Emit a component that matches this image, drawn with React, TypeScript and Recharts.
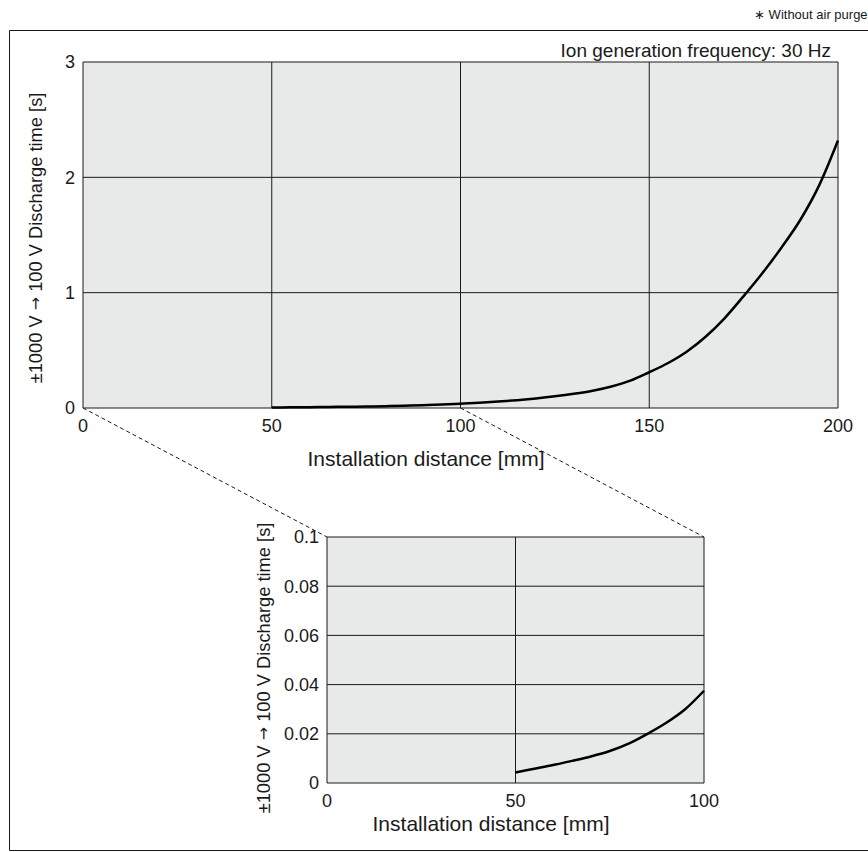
import { CartesianGrid, Line, LineChart, XAxis, YAxis } from 'recharts'

/* Discharge time vs installation distance, with a zoomed inset for 0–100 mm. */

const DISTANCE_MM = [
  50, 55, 60, 65, 70, 75, 80, 85, 90, 95, 100, 105, 110, 115, 120, 125,
  130, 135, 140, 145, 150, 155, 160, 165, 170, 175, 180, 185, 190, 195, 200,
]
const DISCHARGE_S = [
  0.0043, 0.0058, 0.0073, 0.009, 0.0108, 0.013, 0.016, 0.02, 0.0245, 0.03, 0.0375, 0.046, 0.056, 0.068, 0.083, 0.101,
  0.123, 0.15, 0.187, 0.237, 0.31, 0.39, 0.49, 0.62, 0.78, 0.97, 1.17, 1.39, 1.63, 1.93, 2.32,
]

const MAIN_X_TICKS = [0, 50, 100, 150, 200]
const MAIN_Y_TICKS = [0, 1, 2, 3]
const INSET_X_TICKS = [0, 50, 100]
const INSET_Y_TICKS = [0, 0.02, 0.04, 0.06, 0.08, 0.1]
const ZOOM_RANGE = [0, 100]

const Y_TITLE_START = '±1000 V '
const Y_TITLE_ARROW = '→'
const Y_TITLE_END = ' 100 V Discharge time [s]'
const X_TITLE = 'Installation distance [mm]'
const FREQ_NOTE = 'Ion generation frequency: 30 Hz'
const PURGE_NOTE = '∗ Without air purge'

const FONT = '"Liberation Sans", Arial, Helvetica, sans-serif'
const INK = '#1a1a1a'
const PLOT_FILL = '#e8e9e9'
const TICK = { fill: INK, fontSize: 18, fontFamily: FONT }

const rows = DISTANCE_MM.map((d, i) => ({ d, t: DISCHARGE_S[i] }))
const insetRows = rows.filter((r) => r.d <= ZOOM_RANGE[1])

// plot-area boxes in page pixels
const MAIN = { left: 83, top: 62, right: 838, bottom: 408 }
const INSET = { left: 327, top: 537, right: 704, bottom: 783 }
const INSET_POS = { x: 220, y: 500, w: 540, h: 352 }
const Y_AXIS_W = 60
const X_AXIS_H = 30

const mainX = (v: number) => MAIN.left + (v / 200) * (MAIN.right - MAIN.left)

function YTitle({ x, y }: { x: number; y: number }) {
  return (
    <text transform={`translate(${x},${y}) rotate(-90)`} fontSize={18.3} fill={INK}
          textAnchor="middle" dominantBaseline="central">
      {Y_TITLE_START}
      <tspan fontFamily='"DejaVu Sans", sans-serif' fontSize={16}>{Y_TITLE_ARROW}</tspan>
      {Y_TITLE_END}
    </text>
  )
}

export default function App() {
  return (
    <div style={{ position: 'absolute', left: 0, top: 0, width: 868, height: 852, overflow: 'hidden',
                  background: '#fff', fontFamily: FONT }}>
      <svg width={868} height={852} style={{ position: 'absolute', left: 0, top: 0 }}>
        <path d="M 880 30.5 H 9.5 V 850.5 H 880" fill="none" stroke={INK} strokeWidth={1} />
        <line x1={mainX(ZOOM_RANGE[0])} y1={MAIN.bottom} x2={INSET.left} y2={INSET.top}
              stroke={INK} strokeWidth={1} strokeDasharray="4 3" />
        <line x1={mainX(ZOOM_RANGE[1])} y1={MAIN.bottom} x2={INSET.right} y2={INSET.top}
              stroke={INK} strokeWidth={1} strokeDasharray="4 3" />
        <text x={754} y={19} fontSize={13} fill={INK}>{PURGE_NOTE}</text>
        <text x={831} y={57} fontSize={19} fill={INK} textAnchor="end">{FREQ_NOTE}</text>
        <text x={426} y={466} fontSize={21} fill={INK} textAnchor="middle">{X_TITLE}</text>
        <text x={491} y={831} fontSize={21} fill={INK} textAnchor="middle">{X_TITLE}</text>
        <YTitle x={35} y={238} />
        <YTitle x={263} y={668} />
      </svg>

      <div style={{ position: 'absolute', left: 0, top: 0 }}>
        <LineChart width={868} height={480} data={rows}
                   margin={{ top: MAIN.top, right: 868 - MAIN.right, left: MAIN.left - Y_AXIS_W,
                             bottom: 480 - MAIN.bottom - X_AXIS_H }}>
          <CartesianGrid stroke={INK} fill={PLOT_FILL} fillOpacity={1} />
          <XAxis dataKey="d" type="number" domain={[0, 200]} ticks={MAIN_X_TICKS} height={X_AXIS_H}
                 tick={TICK} tickLine={false} axisLine={false} tickMargin={5} interval={0} />
          <YAxis type="number" domain={[0, 3]} ticks={MAIN_Y_TICKS} width={Y_AXIS_W}
                 tick={TICK} tickLine={false} axisLine={false} interval={0} />
          <Line type="monotone" dataKey="t" stroke="#000" strokeWidth={2.5} dot={false}
                isAnimationActive={false} />
        </LineChart>
      </div>

      <div style={{ position: 'absolute', left: INSET_POS.x, top: INSET_POS.y }}>
        <LineChart width={INSET_POS.w} height={INSET_POS.h} data={insetRows}
                   margin={{ top: INSET.top - INSET_POS.y, right: INSET_POS.x + INSET_POS.w - INSET.right,
                             left: INSET.left - INSET_POS.x - Y_AXIS_W,
                             bottom: INSET_POS.y + INSET_POS.h - INSET.bottom - X_AXIS_H }}>
          <CartesianGrid stroke={INK} fill={PLOT_FILL} fillOpacity={1} />
          <XAxis dataKey="d" type="number" domain={ZOOM_RANGE} ticks={INSET_X_TICKS} height={X_AXIS_H}
                 tick={TICK} tickLine={false} axisLine={false} tickMargin={5} interval={0} />
          <YAxis type="number" domain={[0, 0.1]} ticks={INSET_Y_TICKS} width={Y_AXIS_W}
                 tick={TICK} tickLine={false} axisLine={false} interval={0} />
          <Line type="monotone" dataKey="t" stroke="#000" strokeWidth={2.5} dot={false}
                isAnimationActive={false} />
        </LineChart>
      </div>
    </div>
  )
}
